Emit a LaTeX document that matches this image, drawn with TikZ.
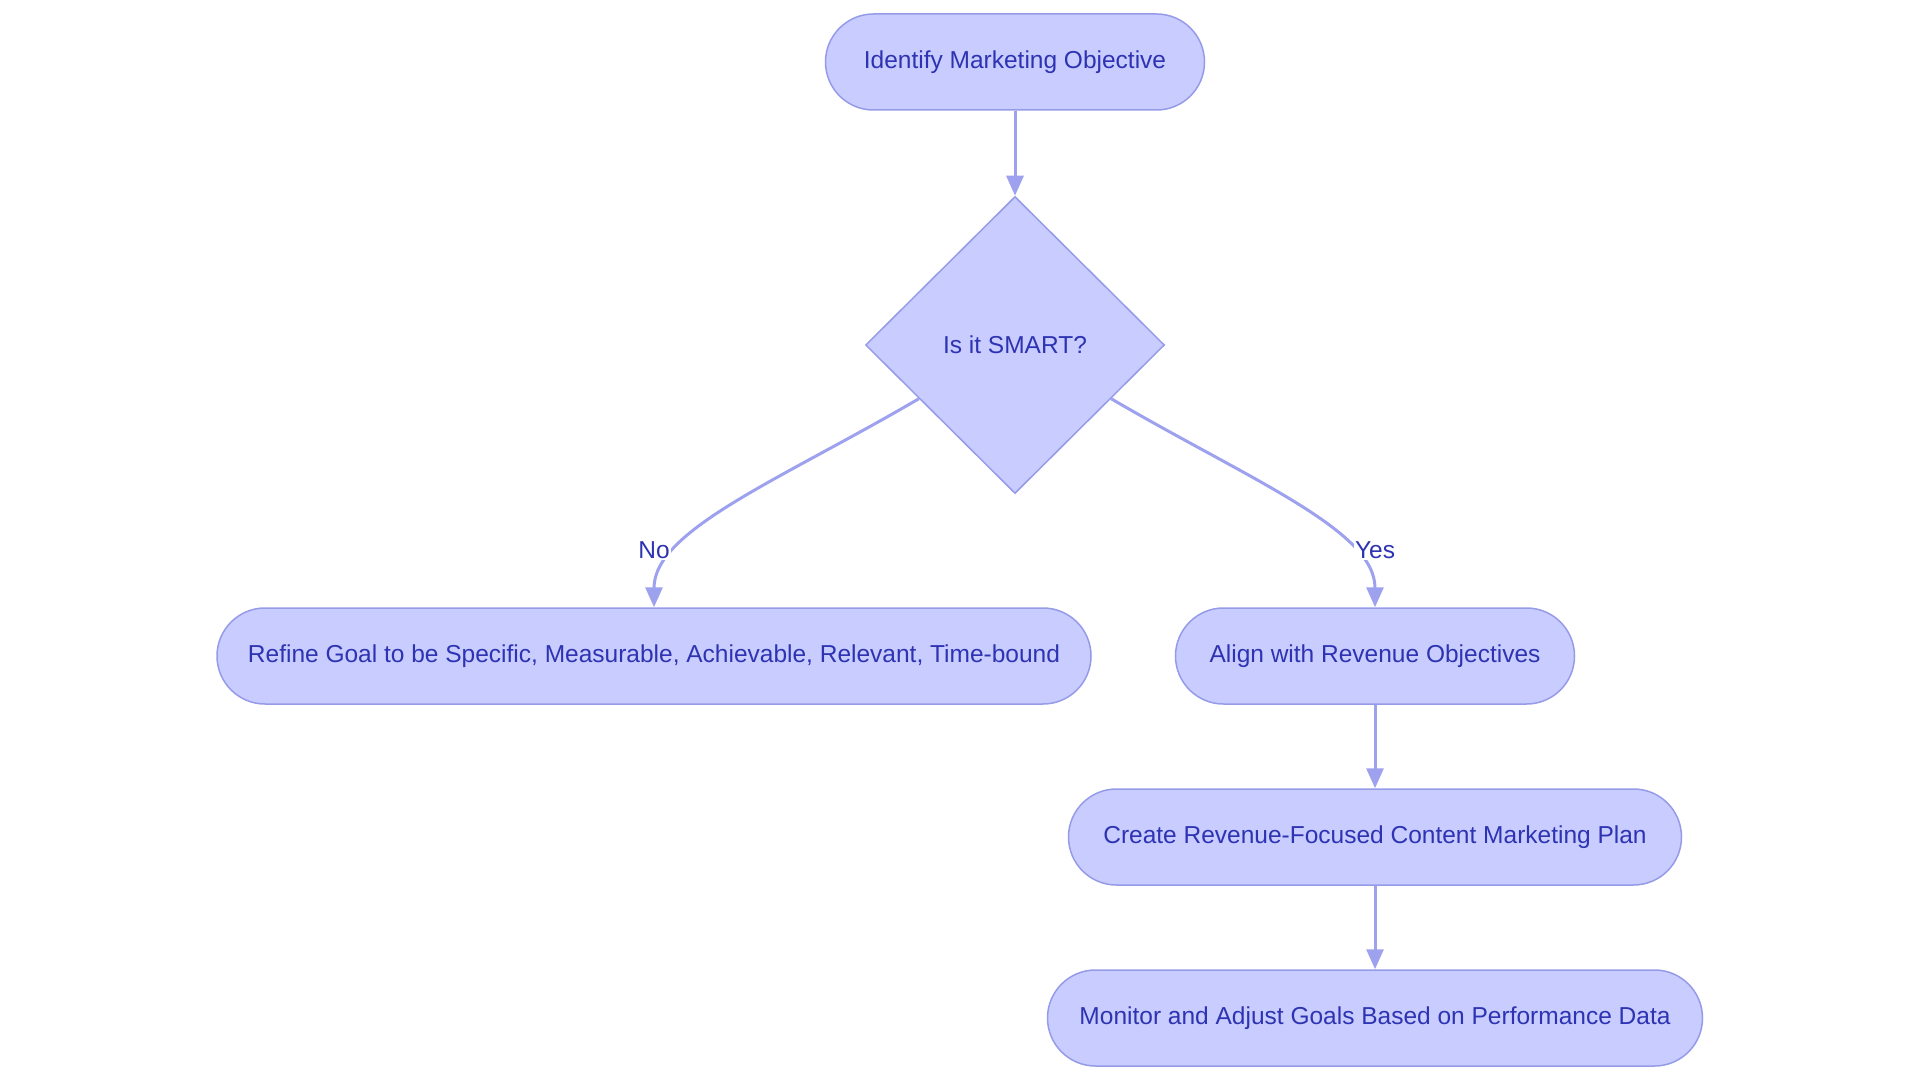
\documentclass[tikz,border=0pt]{standalone}
\usepackage{fontspec}
\setmainfont{Liberation Sans}
\usepackage{tikz}
\usetikzlibrary{positioning}
\usetikzlibrary{shapes.geometric}
\usetikzlibrary{arrows.meta}
\usetikzlibrary{calc}

\definecolor{boxfill}{RGB}{200,204,255}
\definecolor{boxline}{RGB}{150,155,232}
\definecolor{flowline}{RGB}{157,161,238}
\definecolor{boxtext}{RGB}{46,51,178}

\tikzset{
  stepbox/.style={draw=boxline, line width=1.5pt, fill=boxfill, text=boxtext,
    rounded corners=48pt, minimum height=96pt, inner sep=0pt,
    font=\fontsize{24.5}{29}\selectfont},
  decision/.style={diamond, draw=boxline, line width=1.5pt, fill=boxfill, text=boxtext,
    minimum width=299pt, minimum height=297pt, inner sep=0pt,
    font=\fontsize{24.5}{29}\selectfont},
  flow/.style={draw=flowline, line width=3pt,
    -{Triangle[length=20pt,width=17pt]}},
  answer/.style={fill=white, text=boxtext, inner sep=1pt,
    font=\fontsize{24.5}{29}\selectfont}
}

\begin{document}
\begin{tikzpicture}[x=1pt,y=1pt]
\useasboundingbox (0,0) rectangle (1920,-1083);

\node[stepbox, minimum width=379pt] (identify) at (1015,-62) {Identify Marketing Objective};
\node[decision] (smart) at (1015,-345) {Is it SMART?};
\node[stepbox, minimum width=874pt] (refine) at (654,-656) {Refine Goal to be Specific, Measurable, Achievable, Relevant, Time-bound};
\node[stepbox, minimum width=399pt] (align) at (1375,-656) {Align with Revenue Objectives};
\node[stepbox, minimum width=613pt] (create) at (1375,-837) {Create Revenue-Focused Content Marketing Plan};
\node[stepbox, minimum width=655pt] (monitor) at (1375,-1018) {Monitor and Adjust Goals Based on Performance Data};

\coordinate (noout) at ($(smart.west)!0.36!(smart.south)$);
\coordinate (yesout) at ($(smart.east)!0.36!(smart.south)$);

\draw[flow] (identify) -- (smart);
\draw[flow] (noout) .. controls (780,-480) and (654,-530) .. (refine.north);
\draw[flow] (yesout) .. controls (1250,-480) and (1375,-530) .. (align.north);
\draw[flow] (align) -- (create);
\draw[flow] (create) -- (monitor);

\node[answer] (no) at (654,-550) {No};
\node[answer] (yes) at (1375,-550) {Yes};
\end{tikzpicture}
\end{document}
